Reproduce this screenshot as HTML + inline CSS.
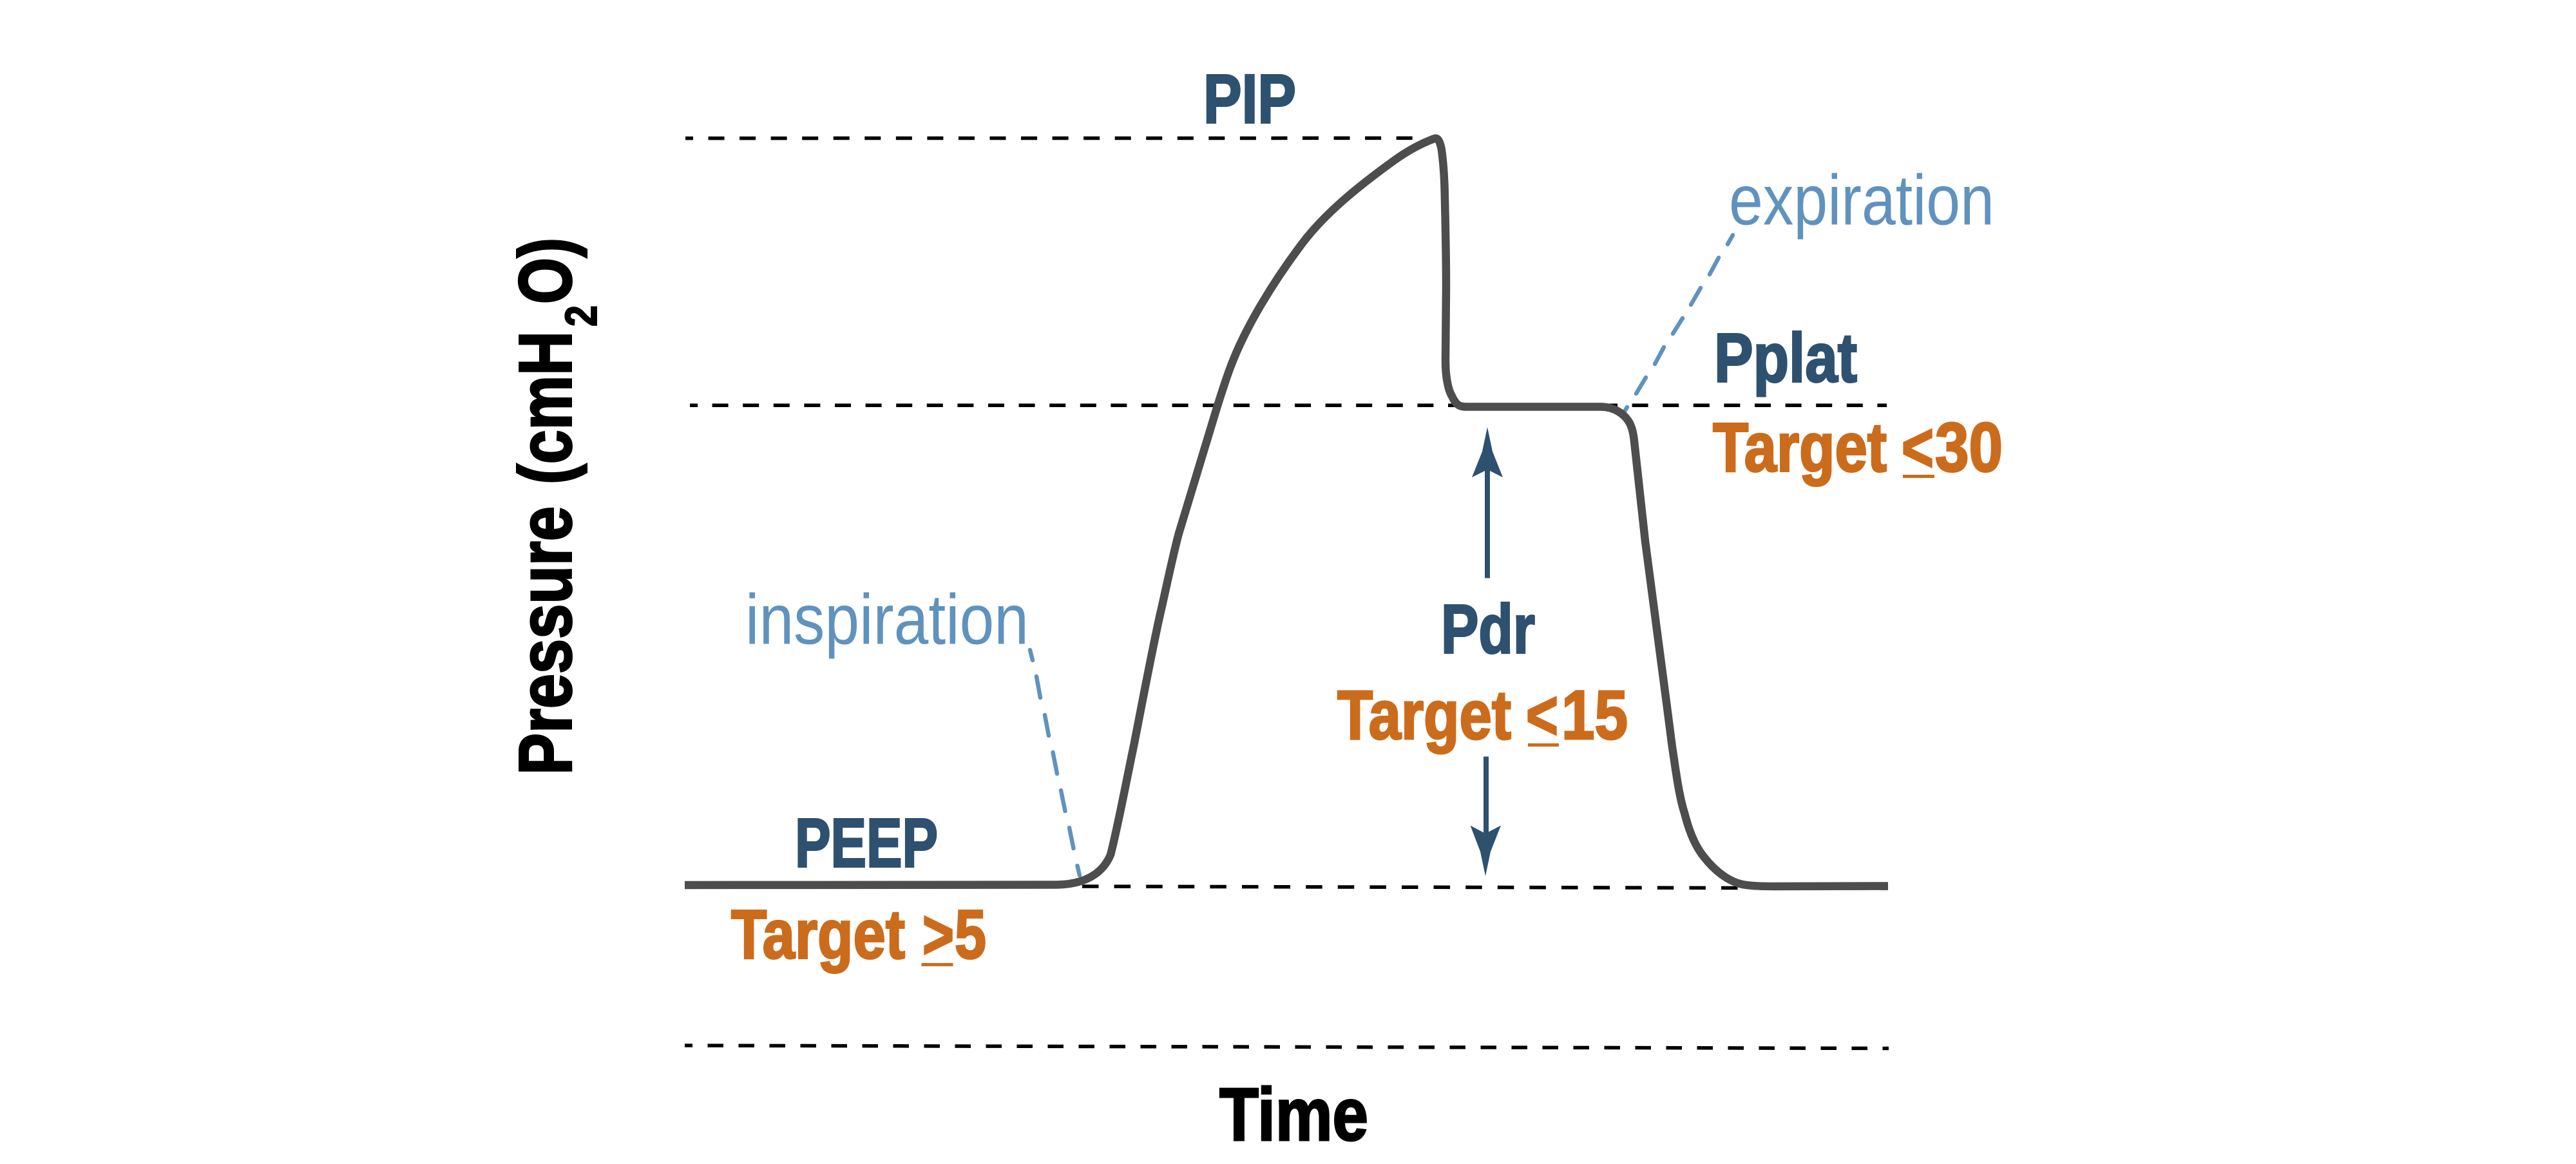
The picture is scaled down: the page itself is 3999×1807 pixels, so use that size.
<!DOCTYPE html>
<html>
<head>
<meta charset="utf-8">
<style>
html,body{margin:0;padding:0;background:#fff;}
svg{display:block;}
text{font-family:"Liberation Sans Narrow","Liberation Sans",sans-serif;}
.b{font-weight:700;stroke:#000;stroke-width:2;}
.n{font-size:108px;fill:#2e5170;stroke:#2e5170;stroke-width:3;font-weight:700;}
.o{font-size:108px;fill:#cb6c1c;stroke:#cb6c1c;stroke-width:3;font-weight:700;}
.l{font-size:110px;fill:#6092be;font-weight:400;}
.k{font-size:116px;fill:#000;stroke:#000;stroke-width:3;font-weight:700;}
</style>
</head>
<body>
<svg xmlns="http://www.w3.org/2000/svg" width="3999" height="1807" viewBox="0 0 3999 1807">
<rect width="3999" height="1807" fill="#fff"/>

<!-- dashed guide lines -->
<g fill="none" stroke="#000" stroke-width="5.5">
  <line x1="1064" y1="214.6" x2="2194" y2="214.4" stroke-dasharray="25 23.55" stroke-dashoffset="13"/>
  <line x1="1071" y1="629.3" x2="2929" y2="629.3" stroke-dasharray="25 22.6" stroke-dashoffset="13"/>
  <line x1="1680" y1="1376" x2="2931" y2="1379" stroke-dasharray="25.5 24.1"/>
  <line x1="1063" y1="1623" x2="2932" y2="1627.5" stroke-dasharray="24.5 23.5" stroke-dashoffset="12.5"/>
</g>

<!-- light blue leader lines -->
<g fill="none" stroke="#6092be" stroke-width="6.5" stroke-linecap="round">
  <line x1="1599" y1="1009" x2="1603" y2="1025"/>
  <line x1="1609" y1="1050" x2="1615" y2="1083"/>
  <line x1="1622" y1="1110" x2="1628" y2="1142"/>
  <line x1="1634.5" y1="1168" x2="1641" y2="1201"/>
  <line x1="1647" y1="1227" x2="1653.5" y2="1259"/>
  <line x1="1660" y1="1285" x2="1666.5" y2="1317"/>
  <line x1="1672.5" y1="1344" x2="1676" y2="1359"/>

  <line x1="2690" y1="365" x2="2682" y2="379"/>
  <line x1="2668" y1="400" x2="2654" y2="426"/>
  <line x1="2640" y1="447" x2="2625" y2="473"/>
  <line x1="2612" y1="494" x2="2597" y2="518"/>
  <line x1="2583" y1="539" x2="2569" y2="565"/>
  <line x1="2555" y1="586" x2="2540" y2="611"/>
  <line x1="2526" y1="632" x2="2518" y2="645"/>
</g>

<!-- waveform -->
<path fill="none" stroke="#4d4d4d" stroke-width="12.5" stroke-linejoin="round" d="
M1063 1374 L1640 1373.5
C1670 1373 1708 1365 1724 1327
C1735 1285 1748 1215 1760 1158
C1773 1092 1786 1022 1800 958
C1810 915 1820 865 1830 828
L1890 630
C1898 605 1905 582 1914 560
C1936 505 1975 440 2020 380
C2055 333 2105 292 2163 250
C2185 234 2208 222 2227 215
C2233 213 2236 222 2238 233
C2241 255 2242 275 2242.5 290
C2244 350 2245 400 2245 444
L2244 560
C2244 585 2248 605 2254 615
C2260 628 2265 631.5 2276 631.5
L2485 631.5
C2505 631.5 2522 642 2530 657
C2534 665 2536 675 2537 685
L2554 840
L2576 1007
C2582 1050 2590 1115 2596 1160
C2600 1185 2606 1235 2615 1262
C2622 1290 2631 1313 2645 1330
C2662 1352 2685 1370 2708 1373.5
C2725 1376 2740 1376 2752 1376
L2931 1375.5"/>

<!-- Pdr arrows -->
<rect x="2305" y="725" width="8" height="172.5" fill="#2e5170"/>
<path fill="#2e5170" d="M2309 663 L2317 701 L2333 741 L2309 729 L2285 741 L2301 701 Z"/>
<rect x="2303" y="1174.5" width="8" height="125" fill="#2e5170"/>
<path fill="#2e5170" d="M2306 1360 L2298 1322 L2282.5 1281.5 L2306 1294 L2330 1281.5 L2314 1322 Z"/>

<!-- labels -->
<text class="n" x="1868" y="190.5" textLength="144" lengthAdjust="spacingAndGlyphs">PIP</text>
<text class="n" x="1234" y="1345.5" textLength="222" lengthAdjust="spacingAndGlyphs">PEEP</text>
<text class="n" x="2661" y="592.5" textLength="222" lengthAdjust="spacingAndGlyphs">Pplat</text>
<text class="n" x="2237" y="1013.5" textLength="146" lengthAdjust="spacingAndGlyphs">Pdr</text>

<text class="l" x="1157" y="999.5" textLength="440" lengthAdjust="spacingAndGlyphs">inspiration</text>
<text class="l" x="2684" y="348.5" textLength="412" lengthAdjust="spacingAndGlyphs">expiration</text>

<text class="o" x="1135" y="1487.5" textLength="270" lengthAdjust="spacingAndGlyphs">Target</text>
<text class="o" x="1432" y="1487.5" textLength="49" lengthAdjust="spacingAndGlyphs">&gt;</text>
<rect x="1430.5" y="1495" width="49" height="5" fill="#cb6c1c"/>
<text class="o" x="1482" y="1487.5" textLength="49" lengthAdjust="spacingAndGlyphs">5</text>

<text class="o" x="2659" y="731.5" textLength="270" lengthAdjust="spacingAndGlyphs">Target</text>
<text class="o" x="2952" y="731.5" textLength="50" lengthAdjust="spacingAndGlyphs">&lt;</text>
<rect x="2954" y="737" width="49" height="5" fill="#cb6c1c"/>
<text class="o" x="3004" y="731.5" textLength="105" lengthAdjust="spacingAndGlyphs">30</text>

<text class="o" x="2076" y="1147" textLength="270" lengthAdjust="spacingAndGlyphs">Target</text>
<text class="o" x="2369" y="1147" textLength="50" lengthAdjust="spacingAndGlyphs">&lt;</text>
<rect x="2372" y="1154" width="48" height="5" fill="#cb6c1c"/>
<text class="o" x="2424" y="1147" textLength="103" lengthAdjust="spacingAndGlyphs">15</text>

<text class="k" x="1893" y="1770" textLength="231" lengthAdjust="spacingAndGlyphs">Time</text>

<!-- rotated axis label -->
<text class="k" transform="translate(886.5 1203) rotate(-90)" x="0" y="0" textLength="417" lengthAdjust="spacingAndGlyphs">Pressure</text>
<text class="k" transform="translate(886.5 752) rotate(-90)" x="0" y="0" textLength="238" lengthAdjust="spacingAndGlyphs">(cmH</text>
<text class="b" transform="translate(926 507) rotate(-90)" x="0" y="0" font-size="70" textLength="33" lengthAdjust="spacingAndGlyphs" fill="#000">2</text>
<text class="k" transform="translate(886.5 472) rotate(-90)" x="0" y="0" textLength="103" lengthAdjust="spacingAndGlyphs">O)</text>
</svg>
</body>
</html>
